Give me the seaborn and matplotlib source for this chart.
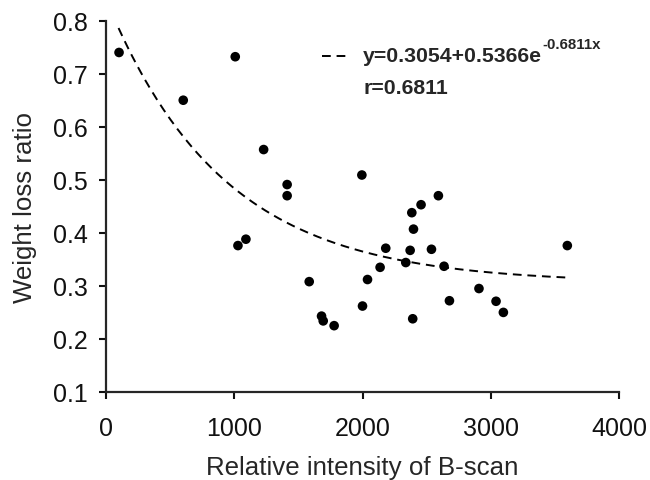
import numpy as np
import pandas as pd
import seaborn as sns
import matplotlib.pyplot as plt

# -------------------
# Data
# -------------------
intensity = [104, 604, 1009, 1230, 1413, 1413, 1030, 1092, 1585, 1681,
             1694, 1779, 2000, 2039, 2137, 2181, 2337, 2371, 2397, 2391,
             2537, 2635, 2677, 2907, 3040, 3097, 3595, 1995, 2384, 2456,
             2591]
weight_loss = [0.740, 0.650, 0.732, 0.557, 0.491, 0.470, 0.376, 0.388, 0.308, 0.243,
               0.234, 0.225, 0.262, 0.312, 0.335, 0.371, 0.344, 0.367, 0.407, 0.238,
               0.369, 0.337, 0.272, 0.295, 0.271, 0.250, 0.376, 0.509, 0.438, 0.453,
               0.470]

# Fitted curve y = a + b * exp(-c * x / 1000), as drawn in the figure
fit_a = 0.3054
fit_b = 0.5366
fit_c = 1.1
fit_range = [100, 3600]

eq_label = 'y=0.3054+0.5366e'
eq_power = '-0.6811x'
r_label = 'r=0.6811'

xticks = [0, 1000, 2000, 3000, 4000]
yticks = [0.1, 0.2, 0.3, 0.4, 0.5, 0.6, 0.7, 0.8]

df = pd.DataFrame({'x': intensity, 'y': weight_loss})
xs = np.linspace(fit_range[0], fit_range[1], 200)
fit = pd.DataFrame({'x': xs, 'y': fit_a + fit_b * np.exp(-fit_c * xs / 1000)})

# -------------------
# Plot
# -------------------
sns.set_style('ticks')
plt.rcParams['font.family'] = ['Liberation Sans', 'DejaVu Sans']

fig = plt.figure(figsize=(6.5, 4.81), dpi=100)
ax = fig.add_axes([0.1626, 0.183, 0.7902, 0.772])

dash = (0, (4.5, 3))
sns.lineplot(data=fit, x='x', y='y', ax=ax, color='black', linewidth=1.4,
             linestyle=dash, label='_fit')
sns.scatterplot(data=df, x='x', y='y', ax=ax, color='black', s=48,
                edgecolor='none', zorder=3)

ax.set(xlim=(0, 4000), ylim=(0.1, 0.8), xticks=xticks, yticks=yticks,
       xlabel='Relative intensity of B-scan', ylabel='Weight loss ratio')
ax.set_yticklabels([f'{v:.1f}' for v in yticks])
ax.tick_params(labelsize=18, width=1.5, length=5, direction='out',
               pad=8, colors='#111111')
ax.tick_params(axis='x', pad=12)
ax.xaxis.label.set_size(18.6)
ax.yaxis.label.set_size(18.6)
ax.xaxis.labelpad = 11
ax.yaxis.labelpad = 11
for s in ['left', 'bottom']:
    ax.spines[s].set_linewidth(1.6)
sns.despine(ax=ax)

# Legend-like annotation
ax.plot([0.422, 0.468], [0.906, 0.906], transform=ax.transAxes, color='black',
        linewidth=1.4, linestyle=dash, clip_on=False)
t = ax.text(0.501, 0.906, eq_label, transform=ax.transAxes, fontsize=15.3,
            fontweight='bold', va='center', ha='left')
ax.annotate(eq_power, xy=(1, 0.72), xycoords=t, fontsize=10.8, fontweight='bold',
            va='bottom', ha='left')
ax.text(0.501, 0.821, r_label, transform=ax.transAxes, fontsize=15.3,
        fontweight='bold', va='center', ha='left')

fig.savefig('out.png', dpi=100)
